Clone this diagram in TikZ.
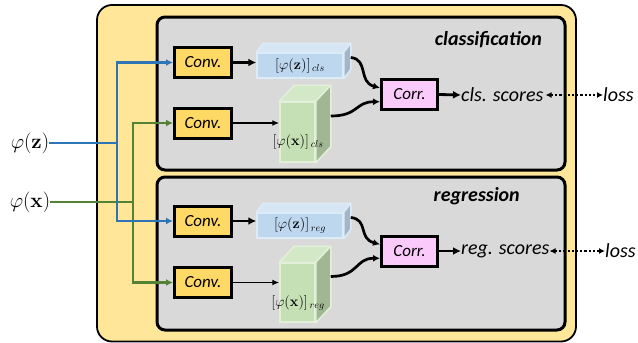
\documentclass[tikz,border=0pt]{standalone}
\usepackage[no-math]{fontspec}
\setmainfont{Carlito}
\usetikzlibrary{arrows.meta,calc}

\definecolor{outery}{HTML}{FFE699}
\definecolor{convy}{HTML}{FFD966}
\definecolor{panel}{HTML}{D9D9D9}
\definecolor{corrp}{HTML}{FACBFA}
\definecolor{zline}{HTML}{2E75B6}
\definecolor{xline}{HTML}{548235}
% cuboid face colours: F front, T top, S side, E edge
\definecolor{cbF}{HTML}{BDD7EE}
\definecolor{cbT}{HTML}{D6E6F5}
\definecolor{cbS}{HTML}{A3B6C9}
\definecolor{cbE}{HTML}{DDEBF7}
\definecolor{cgF}{HTML}{C5E0B4}
\definecolor{cgT}{HTML}{D3E8C6}
\definecolor{cgS}{HTML}{A1B692}
\definecolor{cgE}{HTML}{E2F0D9}

% top and side faces of a cuboid whose front face is node #1
\newcommand\cubefaces[4]{%
  \filldraw[draw=#4E, fill=#4T, line width=1.5pt, line join=round]
    (#1.north west) -- ++(#2,-#3) -- ($(#1.north east)+(#2,-#3)$) -- (#1.north east) -- cycle;
  \filldraw[draw=#4E, fill=#4S, line width=1.5pt, line join=round]
    (#1.north east) -- ++(#2,-#3) -- ($(#1.south east)+(#2,-#3)$) -- (#1.south east) -- cycle;
}

\begin{document}
\begin{tikzpicture}[x=1pt,y=-1pt,
  txt/.style={font=\fontsize{20}{24}\selectfont\itshape, inner sep=0pt},
  title/.style={font=\fontsize{20}{24}\selectfont\bfseries\itshape, inner sep=0pt},
  convbox/.style={draw, line width=3pt, fill=convy, minimum width=57pt, minimum height=30pt,
    inner sep=0pt, font=\fontsize{17}{20}\selectfont\itshape},
  corrbox/.style={draw, line width=3pt, fill=corrp, minimum width=56pt, minimum height=30pt,
    inner sep=0pt, font=\fontsize{17}{20}\selectfont\itshape},
  front/.style={line width=1.5pt, inner sep=0pt},
  lab/.style={inner sep=0pt, font=\fontsize{14}{16}\selectfont},
  feat/.style={line width=2.8pt, -{Latex[length=8pt,width=8pt]}},
  thinfeat/.style={line width=1.8pt, -{Latex[length=7pt,width=6pt]}},
  zarrow/.style={draw=zline, line width=2.7pt, -{Latex[length=7pt,width=7pt]}},
  xarrow/.style={draw=xline, line width=2.7pt, -{Latex[length=7pt,width=7pt]}},
  wavy/.style={line width=2.7pt, -{Latex[length=7pt,width=7pt]}},
  lossarrow/.style={line width=2.2pt, dotted, {Latex[length=6pt,width=6pt]}-{Latex[length=6pt,width=6pt]}}
]
\useasboundingbox (0,0) rectangle (638,343);

% containers
\draw[line width=1.8pt, fill=outery, rounded corners=15pt] (97,5) rectangle (576,341.5);
\draw[line width=3pt, fill=panel, rounded corners=8pt] (157,17) rectangle (565,170);
\draw[line width=3pt, fill=panel, rounded corners=8pt] (157,177) rectangle (565,330);

\node[title, anchor=east] (tcls) at (542,40) {classification};
\node[title, anchor=east] (treg) at (520,196) {regression};

% inputs
\node[inner sep=0pt, font=\fontsize{21}{24}\selectfont] (phiz) at (30,143) {$\varphi(\mathbf{z})$};
\node[inner sep=0pt, font=\fontsize{21}{24}\selectfont] (phix) at (30,202) {$\varphi(\mathbf{x})$};

% Conv blocks
\node[convbox] (c1) at (203,62.5) {Conv.};
\node[convbox] (c2) at (203,123) {Conv.};
\node[convbox] (c3) at (203,221) {Conv.};
\node[convbox] (c4) at (203,282.5) {Conv.};

% Corr blocks
\node[corrbox] (r1) at (409.5,94.5) {Corr.};
\node[corrbox] (r2) at (409.5,251) {Corr.};

% feature cuboids
\node[front, draw=cbE, fill=cbF, minimum width=86pt, minimum height=25pt] (z1) at (300,65.5) {};
\cubefaces{z1}{7}{9}{cb}
\node[lab] (z1l) at (z1) {$[\varphi(\mathbf{z})]_{\,cls}$};

\node[front, draw=cgE, fill=cgF, minimum width=35pt, minimum height=60pt] (x1) at (297.5,132) {};
\cubefaces{x1}{15}{16}{cg}
\node[lab] (x1l) at (298,142) {$[\varphi(\mathbf{x})]_{\,cls}$};

\node[front, draw=cbE, fill=cbF, minimum width=86pt, minimum height=25pt] (z2) at (300,225.5) {};
\cubefaces{z2}{7}{9}{cb}
\node[lab] (z2l) at (z2) {$[\varphi(\mathbf{z})]_{\,reg}$};

\node[front, draw=cgE, fill=cgF, minimum width=35pt, minimum height=59pt] (x2) at (297.5,292.5) {};
\cubefaces{x2}{15}{16}{cg}
\node[lab] (x2l) at (298,303) {$[\varphi(\mathbf{x})]_{\,reg}$};

% outputs
\node[txt, anchor=west] (s1) at (461,95) {cls. scores};
\node[txt, anchor=west] (l1) at (603,95) {loss};
\node[txt, anchor=west] (s2) at (461,251) {reg. scores};
\node[txt, anchor=west] (l2) at (605,251) {loss};

% input routing
\coordinate (bz) at (117,143);
\coordinate (bx) at (133,202);
\draw[draw=xline, line width=2.7pt] (phix.east) -- (bx);
\draw[xarrow] (bx) |- (c2.west);
\draw[xarrow] (bx) |- (c4.west);
\draw[draw=zline, line width=2.7pt] (phiz.east) -- (bz);
\draw[zarrow] (bz) |- (c1.west);
\draw[zarrow] (bz) |- (c3.west);

% conv outputs
\draw[feat] (c1.east) -- (c1.east -| z1.west);
\draw[thinfeat] (c2.east) -- (c2.east -| x1.west);
\draw[feat] (c3.east) -- (c3.east -| z2.west);
\draw[thinfeat] (c4.east) -- (c4.east -| x2.west);

% into correlation
\draw[wavy] ($(z1.east)+(7,-8)$) .. controls +(18,2) and +(-22,-6) .. ($(r1.north west)!0.3!(r1.south west)$);
\draw[wavy] ($(x1.east)+(15,-16)$) .. controls +(28,0) and +(-25,0) .. ($(r1.north west)!0.72!(r1.south west)$);
\draw[wavy] ($(z2.east)+(7,-8)$) .. controls +(18,2) and +(-22,-6) .. ($(r2.north west)!0.3!(r2.south west)$);
\draw[wavy] ($(x2.east)+(15,-16)$) .. controls +(28,0) and +(-25,0) .. ($(r2.north west)!0.72!(r2.south west)$);

% scores and loss
\draw[feat] (r1.east) -- (s1.west);
\draw[feat] (r2.east) -- (s2.west);
\draw[lossarrow] (s1.east) ++(2,0) -- (l1.west);
\draw[lossarrow] (s2.east) -- (l2.west);
\end{tikzpicture}
\end{document}
